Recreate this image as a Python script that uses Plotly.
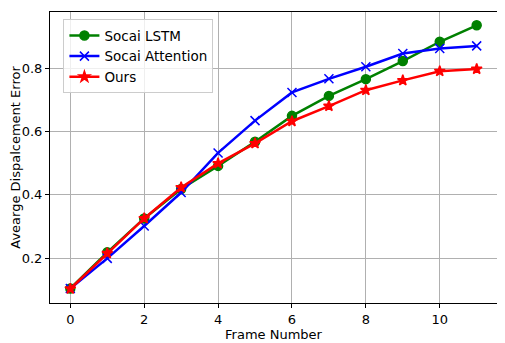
import plotly.graph_objects as go

frames = list(range(12))
lstm = [0.104, 0.218, 0.325, 0.418, 0.491, 0.567, 0.649, 0.712, 0.765, 0.822, 0.883, 0.935]
attention = [0.104, 0.199, 0.301, 0.407, 0.532, 0.634, 0.723, 0.766, 0.804, 0.846, 0.862, 0.870]
ours = [0.103, 0.215, 0.325, 0.423, 0.499, 0.562, 0.632, 0.680, 0.730, 0.761, 0.790, 0.797]

FONT = "DejaVu Sans"

fig = go.Figure()
series = [
    ("Socai LSTM", lstm, "#008000", "circle", 9),
    ("Socai Attention", attention, "#0000ff", "x-thin-open", 9),
    ("Ours", ours, "#ff0000", "star", 8),
]
for name, vals, color, symbol, size in series:
    fig.add_trace(
        go.Scatter(
            x=frames,
            y=vals,
            mode="lines+markers",
            name=name,
            line=dict(color=color, width=2.5),
            marker=dict(symbol=symbol, size=size, color=color,
                        line=dict(color=color, width=1.5)),
        )
    )

axis_common = dict(
    automargin=False,
    showline=True,
    linecolor="black",
    linewidth=1,
    mirror=True,
    ticks="outside",
    ticklen=4,
    tickcolor="black",
    showgrid=True,
    gridcolor="#b0b0b0",
    gridwidth=1,
    zeroline=False,
    tickfont=dict(family=FONT, size=13, color="black"),
    title_font=dict(family=FONT, size=13, color="black"),
)

fig.update_xaxes(
    range=[-0.55, 11.55],
    tickvals=[0, 2, 4, 6, 8, 10],
    title_text="Frame Number",
    title_standoff=2,
    **axis_common,
)
fig.update_yaxes(
    range=[0.058, 0.977],
    tickvals=[0.2, 0.4, 0.6, 0.8],
    tickformat=".1f",
    title_text="Avearge Dispalcement Error",
    title_standoff=4,
    **axis_common,
)

# the page body adds an 8px margin, so the figure is 8px smaller on each axis
fig.update_layout(
    width=497,
    height=335,
    margin=dict(l=42, r=8, t=4, b=40),
    paper_bgcolor="white",
    plot_bgcolor="white",
    font=dict(family=FONT, size=13, color="black"),
    legend=dict(
        x=0.03,
        y=0.975,
        xanchor="left",
        yanchor="top",
        bgcolor="rgba(255,255,255,0.8)",
        bordercolor="#cccccc",
        borderwidth=1,
        font=dict(family=FONT, size=13.5, color="black"),
        tracegroupgap=0,
        itemwidth=30,
    ),
)

fig.write_html("out.html")
